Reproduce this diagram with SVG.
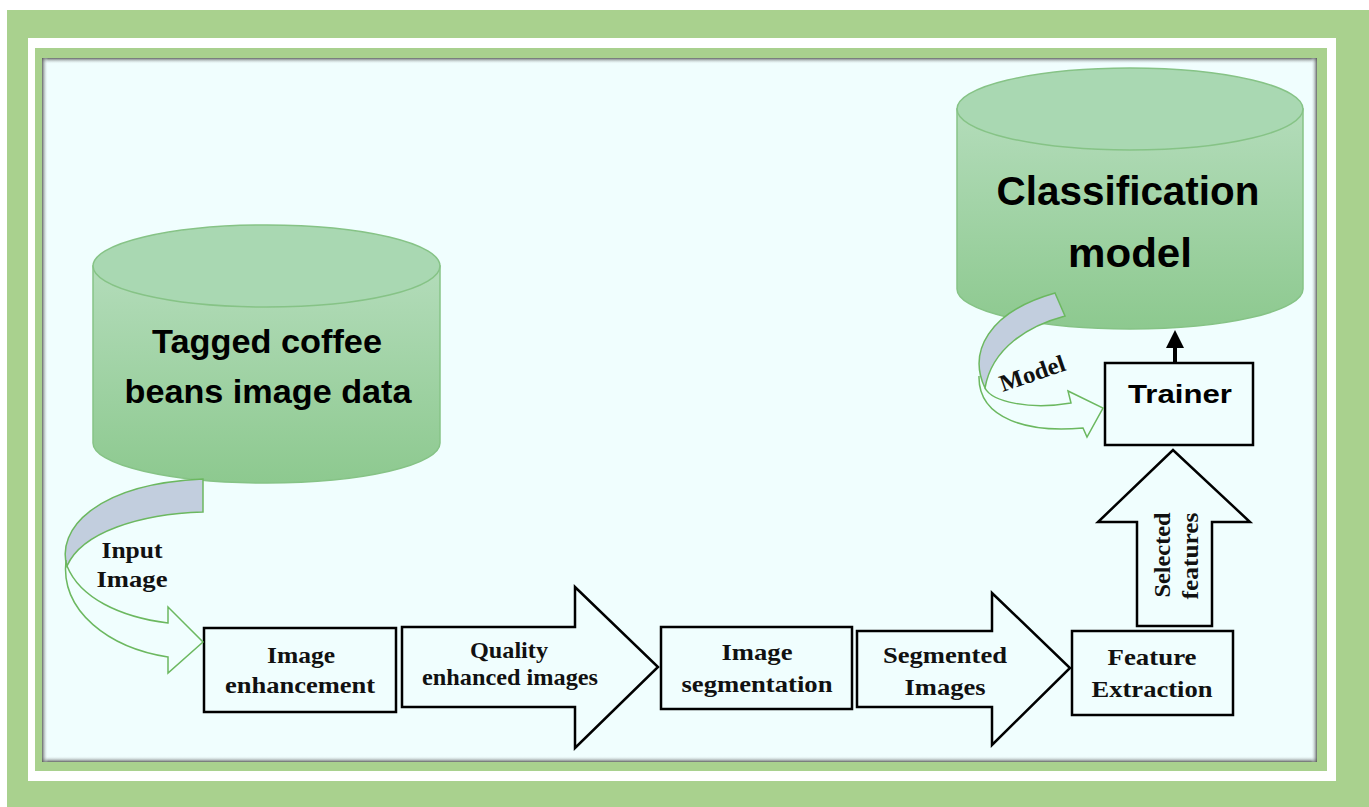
<svg xmlns="http://www.w3.org/2000/svg" width="1369" height="807" viewBox="0 0 1369 807">
<defs>
<linearGradient id="cyl" x1="0" y1="0" x2="0" y2="1">
<stop offset="0" stop-color="#b3dcba"/>
<stop offset="1" stop-color="#8dc98f"/>
</linearGradient>
<linearGradient id="shT" x1="0" y1="0" x2="0" y2="1"><stop offset="0" stop-color="#555" stop-opacity="0.9"/><stop offset="1" stop-color="#f0fefe" stop-opacity="0"/></linearGradient>
<linearGradient id="shB" x1="0" y1="1" x2="0" y2="0"><stop offset="0" stop-color="#555" stop-opacity="0.9"/><stop offset="1" stop-color="#f0fefe" stop-opacity="0"/></linearGradient>
<linearGradient id="shL" x1="0" y1="0" x2="1" y2="0"><stop offset="0" stop-color="#555" stop-opacity="0.9"/><stop offset="1" stop-color="#f0fefe" stop-opacity="0"/></linearGradient>
<linearGradient id="shR" x1="1" y1="0" x2="0" y2="0"><stop offset="0" stop-color="#555" stop-opacity="0.9"/><stop offset="1" stop-color="#f0fefe" stop-opacity="0"/></linearGradient>
</defs>
<style>
.box{fill:#f0fefe;stroke:#000;stroke-width:2.5}
.big{fill:#f0fefe;stroke:#000;stroke-width:2.5;stroke-linejoin:miter}
.cyl{fill:url(#cyl);stroke:#86c386;stroke-width:1.5}
.top{fill:#a9d8b2;stroke:#86c386;stroke-width:1.5}
.band{fill:#c2cede;stroke:#6cb860;stroke-width:1.5}
.outl{fill:none;stroke:#6cb860;stroke-width:1.5}
.ser{font-family:"Liberation Serif",serif;font-weight:bold;font-size:24px;fill:#111;text-anchor:middle}
.san{font-family:"Liberation Sans",sans-serif;font-weight:bold;fill:#000;text-anchor:middle}
</style>
<rect x="0" y="0" width="1369" height="807" fill="#fff"/>
<rect x="7" y="10" width="1362" height="797" fill="#a9d18e"/>
<rect x="28" y="38" width="1308" height="743" fill="#fff"/>
<rect x="35" y="48" width="1292" height="723" fill="#a9d18e"/>
<rect x="42" y="58" width="1275" height="704" fill="#f0fefe"/>
<rect x="42" y="58" width="1275" height="6" fill="url(#shT)"/>
<rect x="42" y="756" width="1275" height="6" fill="url(#shB)"/>
<rect x="42" y="58" width="6" height="704" fill="url(#shL)"/>
<rect x="1311" y="58" width="6" height="704" fill="url(#shR)"/>

<g id="db-tagged">
<path class="cyl" d="M93,266 L93,443 A173.5,40 0 0 0 440,443 L440,266 Z"/>
<ellipse class="top" cx="266.5" cy="266" rx="173.5" ry="41"/>
<text class="san" x="267" y="353" font-size="34" textLength="230" lengthAdjust="spacingAndGlyphs">Tagged coffee</text>
<text class="san" x="268" y="403" font-size="34" textLength="287" lengthAdjust="spacingAndGlyphs">beans image data</text>
</g>

<g id="db-model">
<path class="cyl" d="M957,109 L957,289 A173,40 0 0 0 1303,289 L1303,109 Z"/>
<ellipse class="top" cx="1130" cy="109" rx="173" ry="41"/>
<text class="san" x="1128" y="205" font-size="41" textLength="263" lengthAdjust="spacingAndGlyphs">Classification</text>
<text class="san" x="1130" y="267" font-size="41" textLength="124" lengthAdjust="spacingAndGlyphs">model</text>
</g>

<g id="n-enh">
<rect class="box" x="204" y="628" width="192" height="84"/>
<text class="ser" x="301" y="663" textLength="68" lengthAdjust="spacingAndGlyphs">Image</text>
<text class="ser" x="300" y="693" textLength="150" lengthAdjust="spacingAndGlyphs">enhancement</text>
</g>

<g id="n-seg">
<rect class="box" x="661" y="627" width="191" height="82"/>
<text class="ser" x="757" y="660" textLength="71" lengthAdjust="spacingAndGlyphs">Image</text>
<text class="ser" x="757" y="692" textLength="151" lengthAdjust="spacingAndGlyphs">segmentation</text>
</g>

<g id="n-feat">
<rect class="box" x="1072" y="631" width="161" height="84"/>
<text class="ser" x="1152" y="665" textLength="89" lengthAdjust="spacingAndGlyphs">Feature</text>
<text class="ser" x="1152" y="697" textLength="121" lengthAdjust="spacingAndGlyphs">Extraction</text>
</g>

<g id="n-trainer">
<rect class="box" x="1105" y="363" width="148" height="82"/>
<text class="san" x="1180" y="403" font-size="25" textLength="104" lengthAdjust="spacingAndGlyphs">Trainer</text>
</g>

<g id="connectors">
<g id="c-input">
<path class="band" d="M203,479 L203,512 C140,514 82,532 67,566 C56,530 95,484 203,479 Z"/>
<path class="outl" d="M66,560 C60,612 110,648 168,657 L168,673 L203,642 L168,607 L168,623 C120,617 80,598 67,566"/>
<text class="ser" x="132" y="558" font-size="25" textLength="61" lengthAdjust="spacingAndGlyphs">Input</text>
<text class="ser" x="132" y="587" font-size="25" textLength="71" lengthAdjust="spacingAndGlyphs">Image</text>
</g>
<g id="c-model">
<path class="band" d="M1055,293 L1065,316 C1028,326 992,348 985,388 C968,352 988,312 1055,293 Z"/>
<path class="outl" d="M979,376 C978,420 1030,433 1083,428 L1087,437 L1103,408 L1068,391 L1071,403 C1030,410 992,402 985,388"/>
<text class="ser" x="1035" y="381" font-size="22" textLength="68" lengthAdjust="spacingAndGlyphs" transform="rotate(-19 1035 381)">Model</text>
</g>
<g id="c-quality">
<path class="big" d="M402,627 L575,627 L575,587 L658,667 L575,748 L575,707 L402,707 Z"/>
<text class="ser" x="509" y="658" textLength="78" lengthAdjust="spacingAndGlyphs">Quality</text>
<text class="ser" x="510" y="685" textLength="176" lengthAdjust="spacingAndGlyphs">enhanced images</text>
</g>
<g id="c-segimg">
<path class="big" d="M857,631 L992,631 L992,593 L1070,668 L992,745 L992,707 L857,707 Z"/>
<text class="ser" x="945" y="663" textLength="124" lengthAdjust="spacingAndGlyphs">Segmented</text>
<text class="ser" x="945" y="695" textLength="81" lengthAdjust="spacingAndGlyphs">Images</text>
</g>
<g id="c-selected">
<path class="big" d="M1137,626 L1137,522 L1098,522 L1173,450 L1250,522 L1212,522 L1212,626 Z"/>
<text class="ser" transform="translate(1170 555) rotate(-90)" x="0" y="0" textLength="85" lengthAdjust="spacingAndGlyphs">Selected</text>
<text class="ser" transform="translate(1198 556) rotate(-90)" x="0" y="0" textLength="87" lengthAdjust="spacingAndGlyphs">features</text>
</g>
<g id="c-train">
<line x1="1175" y1="363" x2="1175" y2="340" stroke="#000" stroke-width="4"/>
<path d="M1166,348 L1175,330 L1184,348 Z" fill="#000"/>
</g>
</g>
</svg>
